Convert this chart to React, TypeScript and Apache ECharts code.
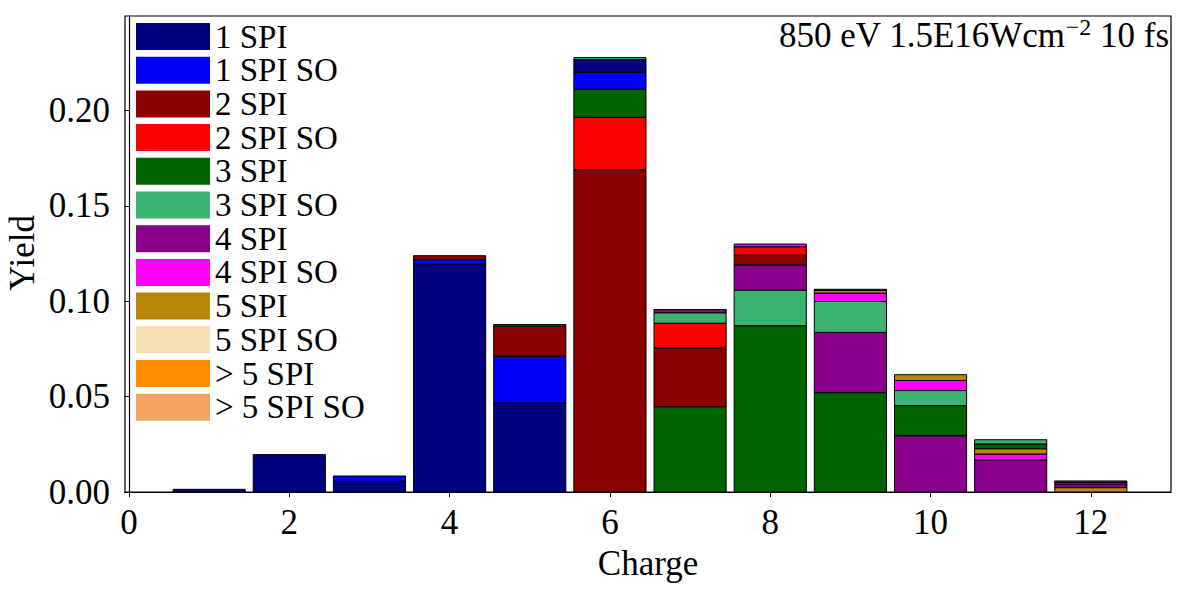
import React, { useEffect, useRef } from "react";
import * as echarts from "echarts";

const charges = [1, 2, 3, 4, 5, 6, 7, 8, 9, 10, 11, 12];

const channelNames = [
  "1 SPI", "1 SPI SO", "2 SPI", "2 SPI SO", "3 SPI", "3 SPI SO",
  "4 SPI", "4 SPI SO", "5 SPI", "5 SPI SO", "> 5 SPI", "> 5 SPI SO",
];
const channelColors = [
  "#000080", "#0000ff", "#8b0000", "#ff0000", "#006400", "#3cb371",
  "#8b008b", "#ff00ff", "#b8860b", "#f5deb3", "#ff8c00", "#f4a460",
];

// yields per charge 1..12
const spi1 = [0.0014, 0.0196, 0.0056, 0.1195, 0.0467, 0.0068, 0, 0, 0, 0, 0, 0];
const spi1so = [0, 0, 0.0028, 0.0023, 0.0245, 0.0088, 0, 0, 0, 0, 0, 0];
const spi2 = [0, 0, 0, 0.0021, 0.0158, 0.169, 0.0309, 0.0051, 0.0006, 0, 0, 0];
const spi2so = [0, 0, 0, 0, 0.0008, 0.0275, 0.0129, 0.0044, 0, 0, 0, 0];
const spi3 = [0, 0, 0, 0, 0, 0.0147, 0.0447, 0.0872, 0.0521, 0.0158, 0.0025, 0.0007];
const spi3so = [0, 0, 0, 0, 0, 0.001, 0.0055, 0.0187, 0.0162, 0.0079, 0.0022, 0];
const spi4 = [0, 0, 0, 0, 0, 0, 0.0017, 0.0132, 0.0316, 0.0295, 0.0168, 0.0019];
const spi4so = [0, 0, 0, 0, 0, 0, 0, 0.0014, 0.0044, 0.0053, 0.0031, 0.0009];
const spi5 = [0, 0, 0, 0, 0, 0, 0, 0, 0.0014, 0.003, 0.0028, 0.0023];
const spi5so = [0, 0, 0, 0, 0, 0, 0, 0, 0, 0, 0, 0];
const spiMore = [0, 0, 0, 0, 0, 0, 0, 0, 0, 0, 0, 0];
const spiMoreSo = [0, 0, 0, 0, 0, 0, 0, 0, 0, 0, 0, 0];

const channels = [spi1, spi1so, spi2, spi2so, spi3, spi3so, spi4, spi4so, spi5, spi5so, spiMore, spiMoreSo];

const xTicks = [0, 2, 4, 6, 8, 10, 12];
const yTicks = [0, 0.05, 0.1, 0.15, 0.2];

const FONT = "'Liberation Serif', 'Times New Roman', serif";
const FS = 35;

export default function App() {
  const ref = useRef<HTMLDivElement>(null);

  useEffect(() => {
    const chart = echarts.init(ref.current!, null, { renderer: "svg" });

    const barHalf = 0.45;

    // per charge, stack channels by descending yield (largest at the bottom)
    const segments: number[][] = [];
    charges.forEach((c, ci) => {
      const sorted = channels
        .map((arr, k) => ({ k, v: arr[ci] }))
        .filter((d) => d.v > 0)
        .sort((a, b) => b.v - a.v);
      let base = 0;
      sorted.forEach((d) => {
        segments.push([c, base, base + d.v, d.k]);
        base += d.v;
      });
    });

    const legendSeries = channelNames.map((n, k) => ({
      name: n,
      type: "bar",
      data: [],
      itemStyle: { color: channelColors[k] },
    }));

    chart.setOption({
      animation: false,
      backgroundColor: "#fff",
      grid: {
        left: 125,
        right: 19,
        top: 16,
        bottom: 99,
        show: true,
        borderColor: "#000",
        borderWidth: 1.2,
        containLabel: false,
      },
      legend: {
        data: channelNames,
        orient: "vertical",
        left: 136,
        top: 20,
        padding: 0,
        itemWidth: 74,
        itemHeight: 27,
        itemGap: 0.7,
        icon: "rect",
        selectedMode: false,
        textStyle: { fontFamily: FONT, fontSize: 33, color: "#000" },
      },
      xAxis: {
        type: "value",
        min: -0.05,
        max: 13.0,
        splitLine: { show: false },
        axisLine: { show: true, onZero: false, lineStyle: { color: "#000", width: 1.2 } },
        axisTick: { show: true, length: 5, customValues: xTicks, lineStyle: { color: "#000" } },
        axisLabel: {
          customValues: xTicks,
          formatter: (v: number) => String(v),
          fontFamily: FONT,
          fontSize: FS,
          color: "#000",
          margin: 13,
        },
      },
      yAxis: {
        type: "value",
        min: 0,
        max: 0.2496,
        splitLine: { show: false },
        axisLine: { show: true, lineStyle: { color: "#000", width: 1.2 } },
        axisTick: { show: true, length: 5, customValues: yTicks, lineStyle: { color: "#000" } },
        axisLabel: {
          customValues: yTicks,
          formatter: (v: number) => v.toFixed(2),
          fontFamily: FONT,
          fontSize: FS,
          color: "#000",
          margin: 15,
        },
      },
      graphic: [
        {
          type: "text",
          x: 22,
          y: 253,
          rotation: Math.PI / 2,
          style: {
            text: "Yield",
            fontFamily: FONT,
            fontSize: FS,
            fill: "#000",
            align: "center",
            verticalAlign: "middle",
          },
        },
        {
          type: "text",
          x: 648,
          y: 563,
          style: {
            text: "Charge",
            fontFamily: FONT,
            fontSize: FS,
            fill: "#000",
            align: "center",
            verticalAlign: "middle",
          },
        },
        {
          type: "text",
          right: 21,
          top: 15,
          style: {
            text: "{n|850 eV 1.5E16Wcm}{s|\u22122}{n| 10 fs}",
            fill: "#000",
            rich: {
              n: { fontFamily: FONT, fontSize: FS, lineHeight: 40, fill: "#000" },
              s: { fontFamily: FONT, fontSize: 24, lineHeight: 26, verticalAlign: "top", fill: "#000" },
            },
          },
        },
      ],
      series: [
        ...legendSeries,
        {
          name: "segments",
          type: "custom",
          data: segments,
          encode: { x: 0, y: [1, 2] },
          renderItem: (params: any, api: any) => {
            const c = api.value(0);
            const y0 = api.value(1);
            const y1 = api.value(2);
            const k = api.value(3);
            const p0 = api.coord([c - barHalf, y1]);
            const p1 = api.coord([c + barHalf, y0]);
            return {
              type: "rect",
              shape: { x: p0[0], y: p0[1], width: p1[0] - p0[0], height: p1[1] - p0[1] },
              style: { fill: channelColors[k], stroke: "#000", lineWidth: 1 },
            };
          },
        },
      ],
    });

    return () => chart.dispose();
  }, []);

  return (
    <div
      ref={ref}
      style={{ position: "fixed", left: 0, top: 0, width: 1190, height: 591, background: "#fff" }}
    />
  );
}
